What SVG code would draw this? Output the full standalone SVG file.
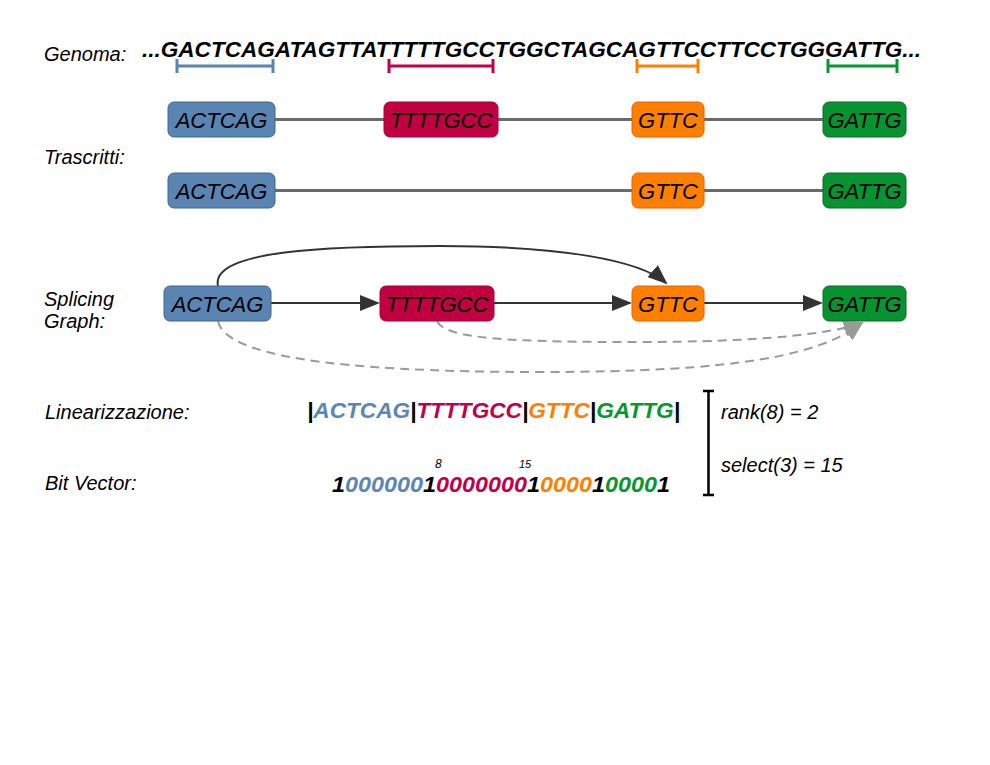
<svg xmlns="http://www.w3.org/2000/svg" width="990" height="765" viewBox="0 0 990 765">
  <style>
    text { font-family: "Liberation Sans", Arial, sans-serif; font-style: italic; }
    .lbl { font-size: 20px; fill: #000; }
    .seq { font-size: 22px; font-weight: bold; fill: #000; }
    .nt { font-size: 22px; fill: #000; text-anchor: middle; }
    .blue { fill: #5a84b2; stroke: #3d6590; stroke-width: 1; }
    .red { fill: #c00040; stroke: #a8003a; stroke-width: 1; }
    .orange { fill: #ff7f00; stroke: #f06000; stroke-width: 1; }
    .green { fill: #079430; stroke: #0b6a28; stroke-width: 1; }
    .tl { stroke: #6a6a6a; stroke-width: 3; fill: none; }
    .edge { stroke: #333; stroke-width: 2; fill: none; }
    .dash { stroke: #9a9a9a; stroke-width: 2; fill: none; stroke-dasharray: 9 6; }
    .cb { fill: #5b86b4; } .cr { fill: #c0004a; } .co { fill: #ff8000; } .cg { fill: #07962f; } .ck { fill: #000; }
  </style>
  <defs>
    <marker id="ah" markerWidth="10" markerHeight="8" refX="9" refY="4" orient="auto" markerUnits="strokeWidth">
      <path d="M0,0 L10,4 L0,8 z" fill="#333"/>
    </marker>
    <marker id="ahg" markerWidth="10" markerHeight="8" refX="9" refY="4" orient="auto" markerUnits="strokeWidth">
      <path d="M0,0 L10,4 L0,8 z" fill="#9a9a9a"/>
    </marker>
  </defs>

  <rect width="990" height="765" fill="#fff"/>

  <!-- Genome -->
  <g id="genome">
    <text class="lbl" x="44" y="61">Genoma:</text>
    <text class="seq" x="142" y="57" textLength="779" lengthAdjust="spacingAndGlyphs">...GACTCAGATAGTTATTTTTGCCTGGCTAGCAGTTCCTTCCTGGGATTG...</text>
    <g stroke-width="3">
      <path d="M177,66 H273 M177,59 V73 M273,59 V73" stroke="#5a84b2"/>
      <path d="M389,66 H493 M389,59 V73 M493,59 V73" stroke="#c0004a"/>
      <path d="M637,66 H698 M637,59 V73 M698,59 V73" stroke="#ff8000"/>
      <path d="M828,66 H897 M828,59 V73 M897,59 V73" stroke="#07962f"/>
    </g>
  </g>

  <!-- Transcripts -->
  <text class="lbl" x="44" y="164">Trascritti:</text>
  <g id="transcript-lines">
    <path class="tl" d="M275,119.5 H384 M498,119.5 H632 M704,119.5 H823"/>
    <path class="tl" d="M275,190.5 H632 M704,190.5 H823"/>
  </g>
  <g id="t1-actcag"><rect class="blue" x="168" y="102" width="107" height="35" rx="6"/><text class="nt" x="221.5" y="127.5">ACTCAG</text></g>
  <g id="t1-ttttgcc"><rect class="red" x="384" y="102" width="114" height="35" rx="6"/><text class="nt" x="441" y="127.5">TTTTGCC</text></g>
  <g id="t1-gttc"><rect class="orange" x="632" y="102" width="72" height="35" rx="6"/><text class="nt" x="668" y="127.5">GTTC</text></g>
  <g id="t1-gattg"><rect class="green" x="823" y="102" width="83" height="35" rx="6"/><text class="nt" x="864.5" y="127.5">GATTG</text></g>
  <g id="t2-actcag"><rect class="blue" x="168" y="173" width="107" height="35" rx="6"/><text class="nt" x="221.5" y="198.5">ACTCAG</text></g>
  <g id="t2-gttc"><rect class="orange" x="632" y="173" width="72" height="35" rx="6"/><text class="nt" x="668" y="198.5">GTTC</text></g>
  <g id="t2-gattg"><rect class="green" x="823" y="173" width="83" height="35" rx="6"/><text class="nt" x="864.5" y="198.5">GATTG</text></g>

  <!-- Splicing graph -->
  <text class="lbl" x="44" y="306">Splicing</text>
  <text class="lbl" x="44" y="328">Graph:</text>
  <g id="edges">
    <path class="edge" d="M271,303 H378" marker-end="url(#ah)"/>
    <path class="edge" d="M494,303 H630" marker-end="url(#ah)"/>
    <path class="edge" d="M704,303 H821" marker-end="url(#ah)"/>
    <path class="edge" d="M218,286 C210,250 330,246 440,246 C560,246 640,260 666,283" marker-end="url(#ah)"/>
    <path class="dash" d="M437,321 C445,340 520,342 640,342 C760,342 830,334 862,323" marker-end="url(#ahg)"/>
    <path class="dash" d="M218,321 C225,355 330,372 540,372 C740,372 820,355 862,323" marker-end="url(#ahg)"/>
  </g>
  <g id="g-actcag"><rect class="blue" x="164" y="286" width="107" height="35" rx="6"/><text class="nt" x="217.5" y="311.5">ACTCAG</text></g>
  <g id="g-ttttgcc"><rect class="red" x="380" y="286" width="114" height="35" rx="6"/><text class="nt" x="437" y="311.5">TTTTGCC</text></g>
  <g id="g-gttc"><rect class="orange" x="632" y="286" width="72" height="35" rx="6"/><text class="nt" x="668" y="311.5">GTTC</text></g>
  <g id="g-gattg"><rect class="green" x="823" y="286" width="83" height="35" rx="6"/><text class="nt" x="864.5" y="311.5">GATTG</text></g>

  <!-- Linearisation and bit vector -->
  <g id="linear">
    <text class="lbl" x="45" y="419">Linearizzazione:</text>
    <text class="seq" x="307" y="418" textLength="373" lengthAdjust="spacingAndGlyphs"><tspan class="ck">|</tspan><tspan class="cb">ACTCAG</tspan><tspan class="ck">|</tspan><tspan class="cr">TTTTGCC</tspan><tspan class="ck">|</tspan><tspan class="co">GTTC</tspan><tspan class="ck">|</tspan><tspan class="cg">GATTG</tspan><tspan class="ck">|</tspan></text>
  </g>
  <g id="bitvector">
    <text class="lbl" x="45" y="490">Bit Vector:</text>
    <text class="seq" x="332" y="492" textLength="338" lengthAdjust="spacingAndGlyphs"><tspan class="ck">1</tspan><tspan class="cb">000000</tspan><tspan class="ck">1</tspan><tspan class="cr">0000000</tspan><tspan class="ck">1</tspan><tspan class="co">0000</tspan><tspan class="ck">1</tspan><tspan class="cg">0000</tspan><tspan class="ck">1</tspan></text>
    <text x="435" y="468" font-size="12">8</text>
    <text x="519" y="468" font-size="11">15</text>
  </g>
  <g id="queries">
    <path d="M708.5,391 V495 M703,391 H714 M703,495 H714" stroke="#000" stroke-width="2.5" fill="none"/>
    <text class="lbl" x="721" y="419">rank(8) = 2</text>
    <text class="lbl" x="721" y="472">select(3) = 15</text>
  </g>
</svg>
